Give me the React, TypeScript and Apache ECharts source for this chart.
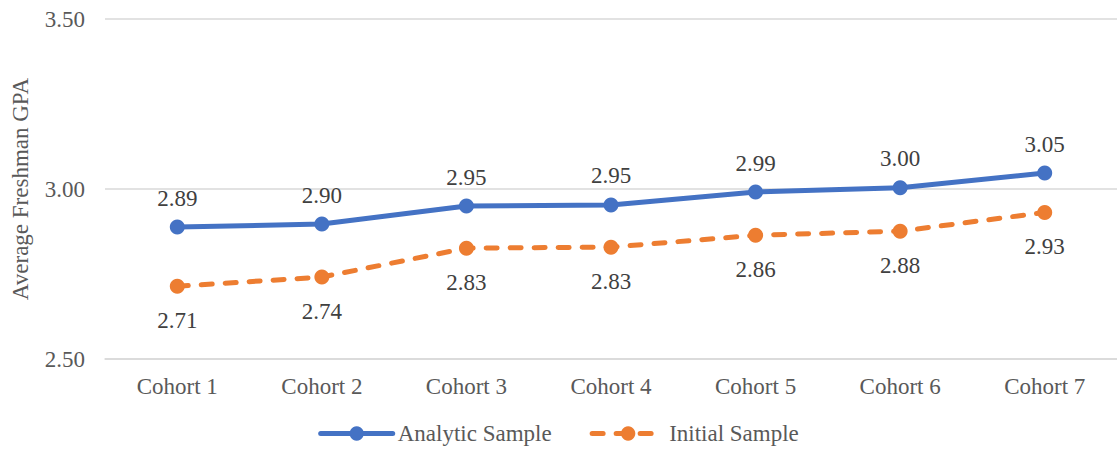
import React, { useEffect, useRef } from "react";
import * as echarts from "echarts";

const categories = ["Cohort 1", "Cohort 2", "Cohort 3", "Cohort 4", "Cohort 5", "Cohort 6", "Cohort 7"];
const analyticSample = [2.888, 2.897, 2.95, 2.953, 2.991, 3.004, 3.047];
const initialSample = [2.714, 2.741, 2.826, 2.829, 2.864, 2.876, 2.931];
const seriesNames = ["Analytic Sample", "Initial Sample"];

const FONT = "Liberation Serif";
const FS = 23;

export default function App() {
  const ref = useRef<HTMLDivElement>(null);
  useEffect(() => {
    if (!ref.current) return;
    const chart = echarts.init(ref.current, null, { renderer: "svg" });
    chart.setOption({
      animation: false,
      backgroundColor: "#ffffff",
      textStyle: { fontFamily: FONT },
      grid: { left: 105, top: 19, width: 1021, height: 340, containLabel: false },
      legend: {
        bottom: 3,
        left: "center",
        itemWidth: 72,
        itemHeight: 18,
        itemGap: 38,
        lineStyle: { width: 5 },
        textStyle: { fontFamily: FONT, fontSize: FS, color: "#595959" },
        data: seriesNames,
      },
      xAxis: {
        type: "category",
        data: categories,
        boundaryGap: true,
        axisLine: { show: true, lineStyle: { color: "#D9D9D9", width: 1.5 } },
        axisTick: { show: false },
        axisLabel: { fontFamily: FONT, fontSize: FS, color: "#595959", margin: 16 },
      },
      yAxis: {
        type: "value",
        min: 2.5,
        max: 3.5,
        interval: 0.5,
        name: "Average Freshman GPA",
        nameLocation: "middle",
        nameGap: 73,
        nameTextStyle: { fontFamily: FONT, fontSize: FS, color: "#595959" },
        axisLine: { show: false },
        axisTick: { show: false },
        splitLine: { lineStyle: { color: "#D9D9D9", width: 1.5 } },
        axisLabel: {
          fontFamily: FONT,
          fontSize: FS,
          color: "#595959",
          margin: 20,
          formatter: (v: number) => v.toFixed(2),
        },
      },
      series: [
        {
          name: seriesNames[0],
          type: "line",
          data: analyticSample,
          symbol: "circle",
          symbolSize: 15,
          itemStyle: { color: "#4472C4" },
          lineStyle: { color: "#4472C4", width: 5, cap: "round" },
          label: {
            show: true,
            position: "top",
            distance: 10,
            fontFamily: FONT,
            fontSize: FS,
            color: "#404040",
            formatter: (p: any) => Number(p.value).toFixed(2),
          },
        },
        {
          name: seriesNames[1],
          type: "line",
          data: initialSample,
          symbol: "circle",
          symbolSize: 15,
          itemStyle: { color: "#ED7D31" },
          lineStyle: { color: "#ED7D31", width: 5, type: [11, 13], cap: "round" },
          label: {
            show: true,
            position: "bottom",
            distance: 15,
            fontFamily: FONT,
            fontSize: FS,
            color: "#404040",
            formatter: (p: any) => Number(p.value).toFixed(2),
          },
        },
      ],
    });
    return () => chart.dispose();
  }, []);
  return (
    <div
      ref={ref}
      style={{ position: "absolute", left: 0, top: 0, width: 1117, height: 453 }}
    />
  );
}
